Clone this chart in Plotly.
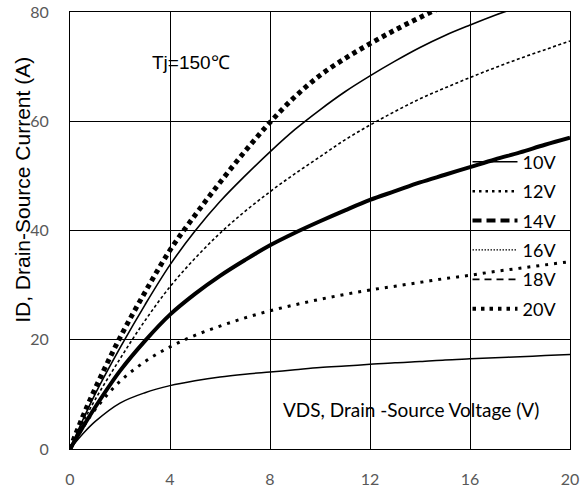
import plotly.graph_objects as go

# Output characteristics, Tj = 150 C
vds = [0, 0.5, 1, 2, 3, 4, 5, 6, 7, 8, 9, 10, 11, 12, 13, 14, 15, 16, 17, 18, 19, 20]

id_10v = [0, 2.7, 5.0, 8.4, 10.3, 11.6, 12.5, 13.2, 13.7, 14.1, 14.5, 14.9,
          15.2, 15.5, 15.8, 16.0, 16.3, 16.5, 16.7, 16.9, 17.1, 17.3]
id_12v = [0, 3.8, 7.2, 12.4, 16.0, 18.7, 20.8, 22.5, 24.0, 25.3, 26.4, 27.4,
          28.3, 29.1, 29.8, 30.5, 31.2, 31.8, 32.5, 33.1, 33.7, 34.3]
id_14v = [0, 3.9, 7.6, 14.3, 19.8, 24.6, 28.4, 31.7, 34.6, 37.3, 39.6, 41.7,
          43.7, 45.6, 47.2, 48.8, 50.2, 51.6, 53.0, 54.3, 55.7, 57.0]
id_16v = [0, 4.7, 9.0, 16.5, 23.5, 29.7, 34.9, 39.5, 43.5, 47.1, 50.4, 53.5,
          56.6, 59.3, 61.8, 64.1, 66.1, 68.0, 69.8, 71.5, 73.1, 74.7]
id_18v = [0, 5.2, 10.0, 18.5, 26.4, 33.7, 39.9, 45.3, 50.0, 54.4, 58.5, 62.1,
          65.4, 68.3, 71.0, 73.5, 75.7, 77.6, 79.4, 81.0, 82.5, 84.0]
id_20v = [0, 5.8, 11.0, 20.4, 28.7, 36.4, 42.8, 48.8, 54.5, 59.8, 64.5, 68.4,
          71.5, 74.2, 76.7, 79.0, 81.2, 83.3, 85.3, 87.2, 89.0, 90.7]

series_names = ["10V", "12V", "14V", "16V", "18V", "20V"]
series_values = [id_10v, id_12v, id_14v, id_16v, id_18v, id_20v]

x_ticks = [0, 4, 8, 12, 16, 20]
y_ticks = [0, 20, 40, 60, 80]

# (curve style, legend-sample style)
styles = [
    (dict(width=1.5, dash="solid"), dict(width=1.5, dash="solid")),
    (dict(width=3, dash="3px,6px"), dict(width=2.5, dash="2.5px,4px")),
    (dict(width=4, dash="solid"), dict(width=4, dash="9px,5px")),
    (dict(width=1.6, dash="3px,2.5px"), dict(width=1.2, dash="1.5px,1.5px")),
    (dict(width=1.6, dash="solid"), dict(width=1.8, dash="7px,5px")),
    (dict(width=5, dash="4.5px,4px"), dict(width=4, dash="3.5px,5px")),
]

fig = go.Figure()

for name, vals, (cstyle, _) in zip(series_names, series_values, styles):
    fig.add_trace(go.Scatter(
        x=vds, y=vals, mode="lines", name=name, showlegend=False,
        line=dict(color="black", shape="spline", smoothing=1.0, **cstyle),
    ))

# legend entries
for i, (name, (_, lstyle)) in enumerate(zip(series_names, styles)):
    fig.add_trace(go.Scatter(
        x=[None], y=[None], mode="lines", name=name, legendgroup=f"g{i}",
        line=dict(color="black", **lstyle),
    ))

tick_font = dict(family="Lato, Calibri, sans-serif", size=16, color="#595959")

fig.update_xaxes(
    range=[0, 20], tickvals=x_ticks, ticktext=[str(v) for v in x_ticks],
    showgrid=True, gridcolor="black", gridwidth=1,
    showline=True, linecolor="black", linewidth=1.2, mirror=True,
    zeroline=False, ticks="", tickfont=tick_font, ticklabelstandoff=16,
    automargin=False,
)
fig.update_yaxes(
    range=[0, 80], tickvals=y_ticks, ticktext=[str(v) for v in y_ticks],
    showgrid=True, gridcolor="black", gridwidth=1,
    showline=True, linecolor="black", linewidth=1.2, mirror=True,
    zeroline=False, ticks="", tickfont=tick_font, ticklabelstandoff=17,
    automargin=False,
)

fig.add_annotation(
    text="ID, Drain-Source Current (A)", xref="paper", yref="paper",
    x=-0.094, y=0.593, xanchor="center", yanchor="middle", textangle=-90,
    showarrow=False, font=dict(family="Liberation Sans, Arial", size=21, color="black"),
)
fig.add_annotation(
    text="Tj=150℃", xref="x", yref="y", x=4.85, y=70.8,
    xanchor="center", yanchor="middle", showarrow=False,
    font=dict(family="Liberation Sans, Arial", size=19, color="black"),
)
fig.add_annotation(
    text="VDS, Drain -Source Voltage (V)", xref="x", yref="y", x=13.65, y=7.3,
    xanchor="center", yanchor="middle", showarrow=False,
    font=dict(family="Lato, Calibri, sans-serif", size=19, color="black"),
)

fig.update_layout(
    width=588, height=489,
    margin=dict(l=70, r=18, t=12, b=40, autoexpand=False),
    paper_bgcolor="white", plot_bgcolor="white",
    showlegend=True,
    legend=dict(
        x=0.795, y=0.699, xanchor="left", yanchor="top",
        bgcolor="rgba(0,0,0,0)", borderwidth=0,
        font=dict(family="Lato, Calibri, sans-serif", size=18, color="black"),
        tracegroupgap=3, traceorder="grouped", itemwidth=45,
    ),
)

fig.write_html("out.html")
